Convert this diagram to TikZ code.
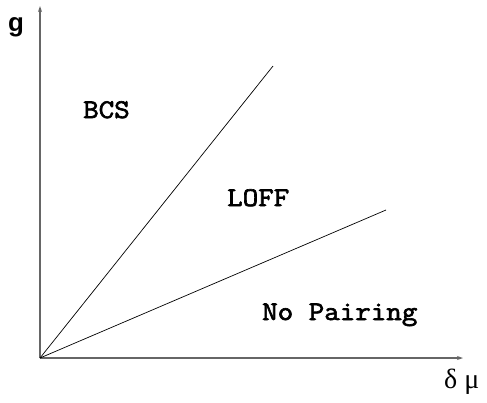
\documentclass[tikz,border=0pt]{standalone}
\usepackage{fontspec}
\usetikzlibrary{arrows.meta}
\setmainfont{Liberation Serif}
\newfontfamily\helvb{Liberation Sans}
\newfontfamily\courb{Latin Modern Mono}[FakeBold=2.5,FakeStretch=1.12]
\begin{document}
\begin{tikzpicture}[x=1bp,y=-1bp,
  axis/.style={draw=black!60,line width=1.1bp,-{Stealth[length=6bp,width=4bp]}},
  phase/.style={draw=black,line width=0.7bp},
  region/.style={anchor=base west,inner sep=0pt,font=\courb\fontsize{27}{27}\selectfont},
  lbl/.style={anchor=base west,inner sep=0pt}]
\useasboundingbox (0,0) rectangle (487,402);
\coordinate (O) at (40,358);
\coordinate (ytip) at (40,6);
\coordinate (xtip) at (463,358);
\coordinate (l1) at (273,66);
\coordinate (l2) at (386,210);
\draw[axis] (O) -- (ytip);
\draw[axis] (O) -- (xtip);
\draw[phase] (O) -- (l1);
\draw[phase] (O) -- (l2);
\node[lbl,font=\helvb\bfseries\fontsize{26}{26}\selectfont] (g) at (8,31) {g};
\node[lbl,font=\fontsize{28}{28}\selectfont] (dm) at (444,388) {δ μ};
\node[region] (bcs) at (83,118) {BCS};
\node[region] (loff) at (227,206) {LOFF};
\node[region] (np) at (262,320) {No Pairing};
\end{tikzpicture}
\end{document}
